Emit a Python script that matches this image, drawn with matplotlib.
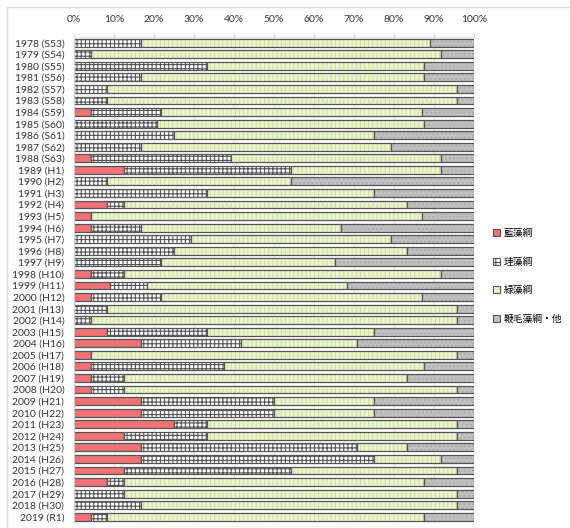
import matplotlib.pyplot as plt
from matplotlib.patches import Rectangle
import numpy as np

plt.rcParams['font.family'] = ['Lato', 'Noto Sans CJK JP', 'DejaVu Sans']
plt.rcParams['hatch.linewidth'] = 0.8

years = ['1978 (S53)', '1979 (S54)', '1980 (S55)', '1981 (S56)', '1982 (S57)',
         '1983 (S58)', '1984 (S59)', '1985 (S60)', '1986 (S61)', '1987 (S62)',
         '1988 (S63)', '1989 (H1)', '1990 (H2)', '1991 (H3)', '1992 (H4)',
         '1993 (H5)', '1994 (H6)', '1995 (H7)', '1996 (H8)', '1997 (H9)',
         '1998 (H10)', '1999 (H11)', '2000 (H12)', '2001 (H13)', '2002 (H14)',
         '2003 (H15)', '2004 (H16)', '2005 (H17)', '2006 (H18)', '2007 (H19)',
         '2008 (H20)', '2009 (H21)', '2010 (H22)', '2011 (H23)', '2012 (H24)',
         '2013 (H25)', '2014 (H26)', '2015 (H27)', '2016 (H28)', '2017 (H29)',
         '2018 (H30)', '2019 (R1)']

# percentages per class
cyano = [0, 0, 0, 0, 0, 0, 4.3, 0, 0, 0, 4.2, 12.5, 0, 0, 8.3, 4.3, 4.2, 0, 0, 0,
         4.2, 9.1, 4.3, 0, 0, 8.3, 16.7, 4.2, 4.2, 4.2, 4.2, 16.7, 16.7, 25, 12.5,
         16.7, 16.7, 12.5, 8.3, 0, 0, 4.2]
diatom = [16.7, 4.2, 33.3, 16.7, 8.3, 8.3, 17.4, 20.8, 25, 16.7, 35.0, 41.7, 8.3,
          33.3, 4.2, 0, 12.5, 29.2, 25, 21.7, 8.3, 9.1, 17.4, 8.3, 4.2, 25, 25, 0,
          33.3, 8.3, 8.3, 33.3, 33.3, 8.3, 20.8, 54.1, 58.3, 41.7, 4.2, 12.5, 16.7,
          4.1]
green = [72.2, 87.5, 54.2, 70.8, 87.5, 87.5, 65.2, 66.7, 50, 62.5, 52.5, 37.5,
         45.9, 41.7, 70.8, 82.6, 50, 50, 58.3, 43.5, 79.2, 50, 65.2, 87.5, 91.6,
         41.7, 29.1, 91.6, 50, 70.8, 83.3, 25, 25, 62.5, 62.5, 12.5, 16.7, 41.6,
         75, 83.3, 79.1, 79.2]
other = [11.1, 8.3, 12.5, 12.5, 4.2, 4.2, 13.0, 12.5, 25, 20.8, 8.3, 8.3, 45.8,
         25, 16.7, 13.0, 33.3, 20.8, 16.7, 34.8, 8.3, 31.8, 13.0, 4.2, 4.2, 25,
         29.2, 4.2, 12.5, 16.7, 4.2, 25, 25, 4.2, 4.2, 16.7, 8.3, 4.2, 12.5, 4.2,
         4.2, 12.5]

labels = ['藍藻綱', '珪藻綱', '緑藻綱', '鞭毛藻綱・他']
fills = ['#F07275', '#FFFFFF', '#EAF4CE', '#C0C0C0']
hatch_cols = ['#F07275', '#555555', '#CFE3A0', '#ADADAD']
hatches = [None, '++++', '||||', '....']

fig = plt.figure(figsize=(5.7, 5.28), dpi=100)
fig.patches.append(Rectangle((7 / 570, -0.1), 1.2, (528 - 7) / 528 + 0.1,
                             transform=fig.transFigure, fill=False,
                             edgecolor='#D9D9D9', linewidth=1.0))
ax = fig.add_axes([74 / 570, 5.5 / 528, 400 / 570, 485.6 / 528])

y = np.arange(len(years))
data = [np.array(cyano), np.array(diatom), np.array(green), np.array(other)]
left = np.zeros(len(years))
handles = []
for vals, lab, fc, hc, ht in zip(data, labels, fills, hatch_cols, hatches):
    ax.barh(y, vals, left=left, height=0.68, color=fc, edgecolor=hc,
            hatch=ht, linewidth=0)
    ax.barh(y, vals, left=left, height=0.68, fill=False,
            edgecolor='#555555', linewidth=0.9)
    handles.append(Rectangle((0, 0), 1, 1, facecolor=fc, edgecolor='#555555',
                             linewidth=0.8, hatch='++' if ht == '++++' else None))
    left += vals

ax.set_xlim(0, 100)
ax.set_ylim(len(years) - 0.5, -0.5)
ax.set_yticks(y)
ax.set_yticklabels(years, fontsize=7.5, color='#333333')
ax.set_xticks(np.arange(0, 101, 10))
ax.set_xticklabels([f'{v}%' for v in range(0, 101, 10)], fontsize=7.5,
                   color='#333333')
ax.xaxis.tick_top()
ax.tick_params(axis='x', length=3, color='#D9D9D9', pad=6)
ax.tick_params(axis='y', length=0, pad=7)
ax.grid(axis='x', color='#E4E4E4', linewidth=0.7)
ax.set_axisbelow(True)
for s in ['right', 'bottom']:
    ax.spines[s].set_visible(False)
ax.spines['left'].set_color('#CFCFCF')
ax.spines['top'].set_color('#E4E4E4')

fig.legend(handles, labels, loc='center left',
           bbox_to_anchor=(484 / 570, 1 - 276 / 528), frameon=False,
           handlelength=0.7, handleheight=0.7, handletextpad=0.4,
           labelspacing=1.9, prop={'family': ['Noto Sans CJK JP'], 'size': 7})

fig.savefig('out.png', dpi=100)
